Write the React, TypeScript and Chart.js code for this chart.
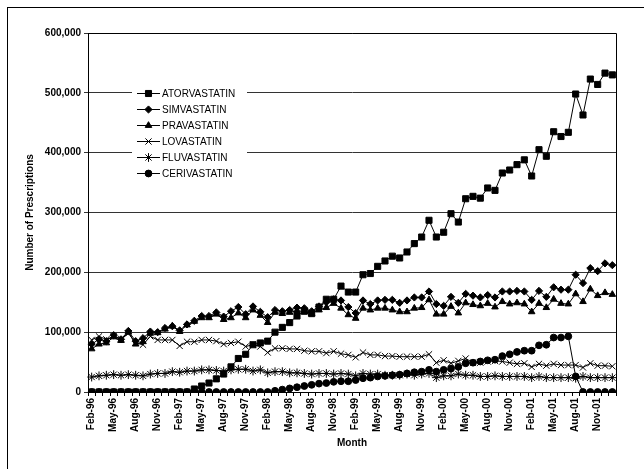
import React, { useEffect, useRef } from 'react';
import { Chart, registerables } from 'chart.js';
import { drawPoint } from 'chart.js/helpers';

Chart.register(...registerables);

const MONTH_LABELS = [
  'Feb-96','Mar-96','Apr-96','May-96','Jun-96','Jul-96','Aug-96','Sep-96','Oct-96','Nov-96','Dec-96',
  'Jan-97','Feb-97','Mar-97','Apr-97','May-97','Jun-97','Jul-97','Aug-97','Sep-97','Oct-97','Nov-97','Dec-97',
  'Jan-98','Feb-98','Mar-98','Apr-98','May-98','Jun-98','Jul-98','Aug-98','Sep-98','Oct-98','Nov-98','Dec-98',
  'Jan-99','Feb-99','Mar-99','Apr-99','May-99','Jun-99','Jul-99','Aug-99','Sep-99','Oct-99','Nov-99','Dec-99',
  'Jan-00','Feb-00','Mar-00','Apr-00','May-00','Jun-00','Jul-00','Aug-00','Sep-00','Oct-00','Nov-00','Dec-00',
  'Jan-01','Feb-01','Mar-01','Apr-01','May-01','Jun-01','Jul-01','Aug-01','Sep-01','Oct-01','Nov-01','Dec-01',
  'Jan-02',
];

const SHOWN_LABELS = [
  'Feb-96','May-96','Aug-96','Nov-96','Feb-97','May-97','Aug-97','Nov-97','Feb-98','May-98','Aug-98','Nov-98',
  'Feb-99','May-99','Aug-99','Nov-99','Feb-00','May-00','Aug-00','Nov-00','Feb-01','May-01','Aug-01','Nov-01',
];

const Y_TICKS = [0, 100000, 200000, 300000, 400000, 500000, 600000];

const ATORVASTATIN = [
  0,0,0,0,0,0,0,0,0,0,0,0,0,0,
  5000,10000,15000,22000,30000,42000,56000,63000,79000,82000,85000,100000,108000,116000,127000,135000,
  131000,142000,155000,155000,177000,167000,167000,196000,198000,210000,219000,227000,224000,234000,
  248000,259000,287000,259000,267000,298000,284000,323000,327000,324000,341000,337000,366000,371000,
  380000,388000,361000,405000,394000,435000,427000,434000,498000,463000,523000,514000,533000,530000,
];

const SIMVASTATIN = [
  80000,88000,85000,95000,88000,102000,85000,90000,101000,100000,107000,110000,103000,113000,119000,
  127000,127000,133000,126000,135000,142000,130000,143000,134000,125000,137000,135000,137000,141000,
  140000,135000,143000,150000,155000,153000,142000,132000,153000,147000,153000,154000,154000,149000,
  153000,158000,158000,168000,147000,144000,159000,149000,164000,161000,158000,162000,158000,168000,
  168000,169000,168000,154000,169000,159000,175000,171000,171000,196000,182000,207000,202000,215000,212000,
];

const PRAVASTATIN = [
  72000,80000,82000,92000,86000,100000,80000,84000,98000,99000,105000,110000,101000,112000,118000,
  124000,124000,130000,121000,124000,132000,124000,137000,128000,116000,133000,131000,133000,136000,
  134000,131000,137000,141000,148000,140000,129000,123000,140000,137000,140000,140000,137000,134000,
  134000,140000,141000,154000,130000,130000,143000,132000,149000,146000,144000,148000,142000,151000,
  147000,149000,147000,134000,148000,141000,155000,148000,147000,164000,151000,172000,161000,166000,163000,
];

const LOVASTATIN = [
  87000,93000,88000,93000,89000,98000,82000,79000,93000,87000,87000,87000,77000,84000,84000,87000,
  87000,85000,80000,82000,84000,76000,79000,76000,66000,73000,73000,72000,72000,69000,68000,68000,
  65000,68000,64000,62000,58000,66000,62000,62000,60000,60000,59000,59000,59000,59000,63000,49000,
  53000,48000,52000,56000,49000,49000,51000,52000,51000,49000,47000,48000,42000,47000,44000,47000,
  45000,45000,45000,41000,48000,44000,44000,43000,
];

const FLUVASTATIN = [
  25000,27000,28000,29000,28000,29000,28000,27000,30000,31000,31000,34000,33000,35000,35000,37000,
  37000,36000,35000,37000,38000,38000,35000,37000,32000,34000,34000,32000,32000,31000,30000,31000,
  31000,30000,31000,30000,27000,31000,30000,30000,28000,28000,28000,30000,28000,30000,31000,24000,
  27000,27000,30000,28000,28000,26000,26000,27000,26000,26000,26000,26000,24000,26000,24000,24000,
  24000,24000,23000,26000,24000,24000,24000,24000,
];

const CERIVASTATIN = [
  0,0,0,0,0,0,0,0,0,0,0,0,0,0,0,0,0,0,0,0,0,0,0,0,0,
  2000,4000,6000,8000,10000,12000,14000,15000,17000,18000,18000,20000,23000,24000,26000,27000,28000,
  29000,31000,33000,34000,37000,34000,37000,39000,42000,48000,49000,51000,53000,54000,60000,63000,
  67000,69000,69000,78000,79000,91000,91000,93000,26000,0,0,0,0,0,
];

const SERIES_NAMES = ['ATORVASTATIN','SIMVASTATIN','PRAVASTATIN','LOVASTATIN','FLUVASTATIN','CERIVASTATIN'];
const SERIES_VALUES = [ATORVASTATIN, SIMVASTATIN, PRAVASTATIN, LOVASTATIN, FLUVASTATIN, CERIVASTATIN];
const SERIES_MARKERS = ['rect','rectRot','triangle','crossRot','star','circle'];
const MARKER_RADII = [4.3, 3.6, 3.8, 4.4, 4.4, 3.4];

const FONT = "'Liberation Sans', Arial, sans-serif";

const W = 644;
const H = 469;

const frameAndLegend = {
  id: 'frameAndLegend',
  beforeDatasetsDraw(chart: any) {
    const { ctx, chartArea } = chart;
    ctx.save();
    ctx.strokeStyle = '#000';
    ctx.lineWidth = 1;
    ctx.beginPath();
    ctx.moveTo(Math.round(chartArea.left) + 0.5, Math.round(chartArea.top) + 0.5);
    ctx.lineTo(Math.round(chartArea.right) + 0.5, Math.round(chartArea.top) + 0.5);
    ctx.lineTo(Math.round(chartArea.right) + 0.5, Math.round(chartArea.bottom) + 0.5);
    ctx.stroke();
    ctx.restore();
  },
  afterDraw(chart: any) {
    const { ctx, chartArea } = chart;
    const lx = chartArea.left + 44;
    const ly = chartArea.top + 52;
    ctx.save();
    ctx.fillStyle = '#fff';
    ctx.fillRect(lx, ly, 115, 96);
    chart.data.datasets.forEach((ds: any, i: number) => {
      const y = ly + 8 + i * 16;
      ctx.strokeStyle = '#000';
      ctx.fillStyle = '#000';
      ctx.lineWidth = 1;
      ctx.beginPath();
      ctx.moveTo(lx + 5, Math.round(y) + 0.5);
      ctx.lineTo(lx + 28, Math.round(y) + 0.5);
      ctx.stroke();
      drawPoint(ctx, { pointStyle: ds.pointStyle, radius: ds.pointRadius, borderWidth: 1, rotation: 0 }, lx + 16.5, Math.round(y) + 0.5);
      ctx.fillStyle = '#000';
      ctx.font = `10px ${FONT}`;
      ctx.textBaseline = 'middle';
      ctx.textAlign = 'left';
      ctx.fillText(ds.label, lx + 30, y + 1);
    });
    ctx.restore();
  },
};

export default function App() {
  const ref = useRef<HTMLCanvasElement | null>(null);

  useEffect(() => {
    const canvas = ref.current;
    if (!canvas) return;
    const chart = new Chart(canvas, {
      type: 'line',
      data: {
        labels: MONTH_LABELS,
        datasets: SERIES_NAMES.map((name, i) => ({
          label: name,
          data: SERIES_VALUES[i],
          borderColor: '#000',
          backgroundColor: '#000',
          borderWidth: 1,
          pointStyle: SERIES_MARKERS[i] as any,
          pointRadius: MARKER_RADII[i],
          pointBorderWidth: 1,
          pointBackgroundColor: '#000',
          pointBorderColor: '#000',
          tension: 0,
          fill: false,
        })),
      },
      options: {
        responsive: false,
        animation: false,
        devicePixelRatio: 1,
        layout: { padding: { left: 18, top: 33, right: 28, bottom: 20 } },
        plugins: {
          legend: { display: false },
          tooltip: { enabled: false },
        },
        scales: {
          x: {
            type: 'category',
            offset: true,
            afterFit: (scale: any) => { scale.height = 57; },
            grid: {
              offset: true,
              drawOnChartArea: false,
              drawTicks: true,
              tickLength: 4,
              color: '#000',
            },
            border: { color: '#000', width: 1 },
            ticks: {
              autoSkip: false,
              minRotation: 90,
              maxRotation: 90,
              padding: 2,
              color: '#000',
              font: { family: FONT, size: 10, weight: 'bold' },
              callback: (_v: any, idx: number) => {
                const l = MONTH_LABELS[idx];
                return SHOWN_LABELS.includes(l) ? l : '';
              },
            },
            title: {
              display: true,
              text: 'Month',
              color: '#000',
              font: { family: FONT, size: 10, weight: 'bold' },
              padding: { top: 0, bottom: 0 },
            },
          },
          y: {
            min: 0,
            max: 600000,
            afterFit: (scale: any) => { scale.width = 70; },
            afterBuildTicks: (scale: any) => { scale.ticks = Y_TICKS.map((v) => ({ value: v })); },
            grid: {
              drawOnChartArea: true,
              drawTicks: true,
              tickLength: 4,
              color: '#333',
            },
            border: { color: '#000', width: 1 },
            ticks: {
              padding: 3,
              color: '#000',
              font: { family: FONT, size: 10, weight: 'bold' },
              callback: (v: any) => Number(v).toLocaleString('en-US'),
            },
            title: {
              display: true,
              text: 'Number of Prescriptions',
              color: '#000',
              font: { family: FONT, size: 10, weight: 'bold' },
              padding: { top: 6, bottom: 0 },
            },
          },
        },
      },
      plugins: [frameAndLegend],
    });
    return () => chart.destroy();
  }, []);

  return (
    <div style={{ position: 'absolute', left: 0, top: 0, width: W, height: H, background: '#fff' }}>
      <div
        style={{
          position: 'absolute',
          left: 7,
          top: 7,
          width: W,
          height: H,
          borderLeft: '1px solid #000',
          borderTop: '1px solid #000',
          boxSizing: 'border-box',
        }}
      />
      <canvas ref={ref} width={W} height={H} style={{ position: 'absolute', left: 0, top: 0, display: 'block' }} />
    </div>
  );
}
